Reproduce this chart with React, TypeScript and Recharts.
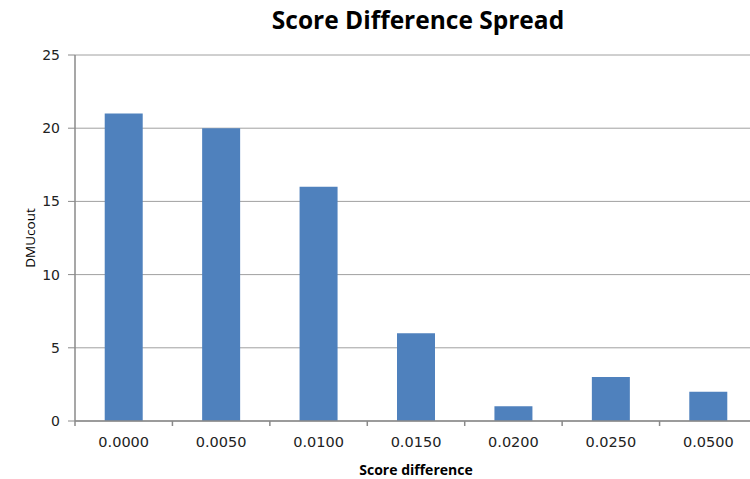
import React from "react";
import { BarChart, Bar, XAxis, YAxis, CartesianGrid, Label } from "recharts";

const categories = ["0.0000", "0.0050", "0.0100", "0.0150", "0.0200", "0.0250", "0.0500"];
const counts = [21, 20, 16, 6, 1, 3, 2];
const yTicks = [0, 5, 10, 15, 20, 25];

const data = categories.map((c, i) => ({ cat: c, count: counts[i] }));

const W = 757;
const H = 479;
const LEFT = 75;
const BAND = (W - LEFT) / categories.length;

const XTick = (props: any) => {
  const { x, y, payload, index } = props;
  const left = x - BAND / 2;
  return (
    <g>
      <line x1={left} y1={y - 8} x2={left} y2={y - 3} stroke="#8a8a8a" strokeWidth={1.5} />
      {index === categories.length - 1 && (
        <line x1={left + BAND} y1={y - 8} x2={left + BAND} y2={y - 3} stroke="#8a8a8a" strokeWidth={1.5} />
      )}
      <text x={x} y={y + 18} textAnchor="middle" fontFamily="DejaVu Sans" fontSize={14.5} fill="#222">
        {payload.value}
      </text>
    </g>
  );
};

export default function App() {
  return (
    <div style={{ position: "fixed", left: 0, top: 0, width: 750, height: 479, overflow: "hidden", background: "#fff" }}>
      <div
        style={{
          position: "absolute",
          left: 0,
          width: 836,
          top: 3,
          textAlign: "center",
          fontFamily: "'Open Sans'",
          fontWeight: 700,
          fontSize: 24.5,
          color: "#000",
          zIndex: 1,
        }}
      >
        Score Difference Spread
      </div>
      <BarChart
        width={W}
        height={H}
        data={data}
        margin={{ top: 55, right: 0, left: 0, bottom: 0 }}
        barCategoryGap="30.5%"
      >
        <CartesianGrid vertical={false} stroke="#a0a0a0" strokeWidth={1} />
        <XAxis
          dataKey="cat"
          tick={<XTick />}
          tickLine={false}
          axisLine={{ stroke: "#8a8a8a", strokeWidth: 1.5 }}
          interval={0}
          height={58}
        >
          <Label
            value="Score difference"
            position="insideBottom"
            offset={4}
            style={{ fontFamily: "'Open Sans'", fontWeight: 700, fontSize: 14, fill: "#000" }}
          />
        </XAxis>
        <YAxis
          width={LEFT}
          domain={[0, 25]}
          ticks={yTicks}
          tickSize={7}
          tickMargin={8}
          tickLine={{ stroke: "#8a8a8a" }}
          axisLine={{ stroke: "#8a8a8a", strokeWidth: 1.5 }}
          tick={{ fontFamily: "DejaVu Sans", fontSize: 14, fill: "#222" }}
        >
          <Label
            value="DMUcout"
            angle={-90}
            position="insideLeft"
            offset={30}
            style={{ fontFamily: "'Open Sans'", fontSize: 13.5, fill: "#000", textAnchor: "middle" }}
          />
        </YAxis>
        <Bar dataKey="count" fill="#4f81bd" isAnimationActive={false} />
      </BarChart>
    </div>
  );
}
